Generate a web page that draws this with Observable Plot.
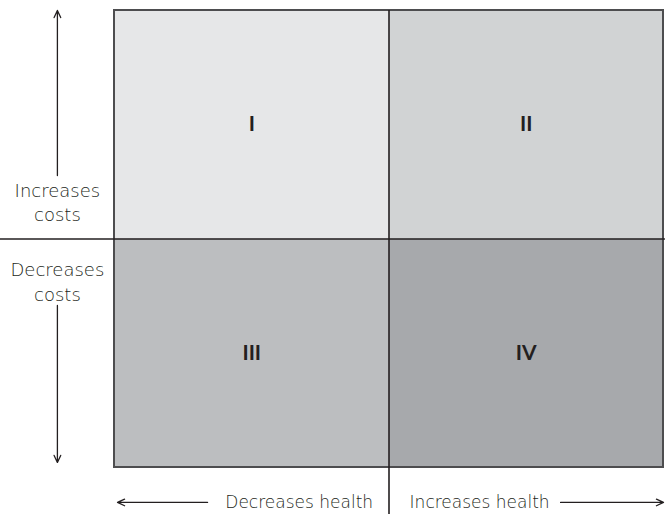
<!DOCTYPE html>
<html><head><meta charset="utf-8">
<script src="https://cdn.jsdelivr.net/npm/d3@7"></script>
<script src="https://cdn.jsdelivr.net/npm/@observablehq/plot@0.6"></script>
<style>
body{margin:0;background:#fff;}
svg{font-family:"DejaVu Sans",Lato,sans-serif;}
</style>
</head><body><div id="chart"></div>
<script>
// Quadrants (health effect on x, cost effect on y)
const quadLabels = ["I", "II", "III", "IV"];
const quadX = [0, 1, 0, 1];        // 0 = decreases health, 1 = increases health
const quadY = [1, 1, 0, 0];        // 1 = increases costs, 0 = decreases costs
const quadFill = ["#e6e7e8", "#d1d3d4", "#bcbec0", "#a7a9ac"];

// Annotation texts
const costLabels = ["Increases\ncosts", "Decreases\ncosts"];
const healthLabels = ["Decreases health", "Increases health"];

// Annotation positions in data units
const costArrowX = -0.208;
const costLabelY = [1.166, 0.818];
const upArrow = [1.278, 2.0];
const downArrow = [0.709, 0.022];
const healthArrowY = -0.153;
const healthLabelX = [0.942, 1.075];
const leftArrow = [0.339, 0.011];
const rightArrow = [1.625, 2.0];
const axisExtentX = [-0.416, 2.007];
const axisExtentY = [2.0, -0.206];

const quads = quadLabels.map((l, i) => ({label: l, x: quadX[i], y: quadY[i], fill: quadFill[i]}));
const arrows = [
  {x1: costArrowX, x2: costArrowX, y1: upArrow[0], y2: upArrow[1]},
  {x1: costArrowX, x2: costArrowX, y1: downArrow[0], y2: downArrow[1]},
  {x1: leftArrow[0], x2: leftArrow[1], y1: healthArrowY, y2: healthArrowY},
  {x1: rightArrow[0], x2: rightArrow[1], y1: healthArrowY, y2: healthArrowY}
];
const ink = "#231f20";

const chart = Plot.plot({
  width: 665, height: 514,
  marginLeft: 114, marginRight: 2, marginTop: 10, marginBottom: 47,
  x: {domain: [0, 2], axis: null},
  y: {domain: [0, 2], axis: null},
  marks: [
    Plot.rect(quads, {x1: "x", x2: d => d.x + 1, y1: "y", y2: d => d.y + 1, fill: "fill"}),
    Plot.rect([0], {x1: 0, x2: 2, y1: 0, y2: 2, fill: "none", stroke: "#4d4d4f", strokeWidth: 2}),
    Plot.ruleY([1], {x1: axisExtentX[0], x2: axisExtentX[1], stroke: ink, strokeWidth: 1.6, clip: false}),
    Plot.ruleX([1], {y1: axisExtentY[0], y2: axisExtentY[1], stroke: ink, strokeWidth: 1.6, clip: false}),
    Plot.arrow(arrows, {x1: "x1", y1: "y1", x2: "x2", y2: "y2", stroke: ink, strokeWidth: 1.3, headLength: 9, headAngle: 50, clip: false}),
    Plot.text(quads, {x: d => d.x + 0.5, y: d => d.y + 0.5, text: "label", fontSize: 21, fontWeight: "bold", fill: ink, fontFamily: "Lato"}),
    Plot.text(costLabels, {x: costArrowX, y: (d, i) => costLabelY[i], text: d => d, fontSize: 18, fontWeight: 200, fill: ink, lineHeight: 1.38}),
    Plot.text([healthLabels[0]], {x: healthLabelX[0], y: healthArrowY, text: d => d, textAnchor: "end", fontSize: 17, fontWeight: 200, fill: ink}),
    Plot.text([healthLabels[1]], {x: healthLabelX[1], y: healthArrowY, text: d => d, textAnchor: "start", fontSize: 17, fontWeight: 200, fill: ink})
  ]
});
document.getElementById("chart").append(chart);
</script>
</body></html>
